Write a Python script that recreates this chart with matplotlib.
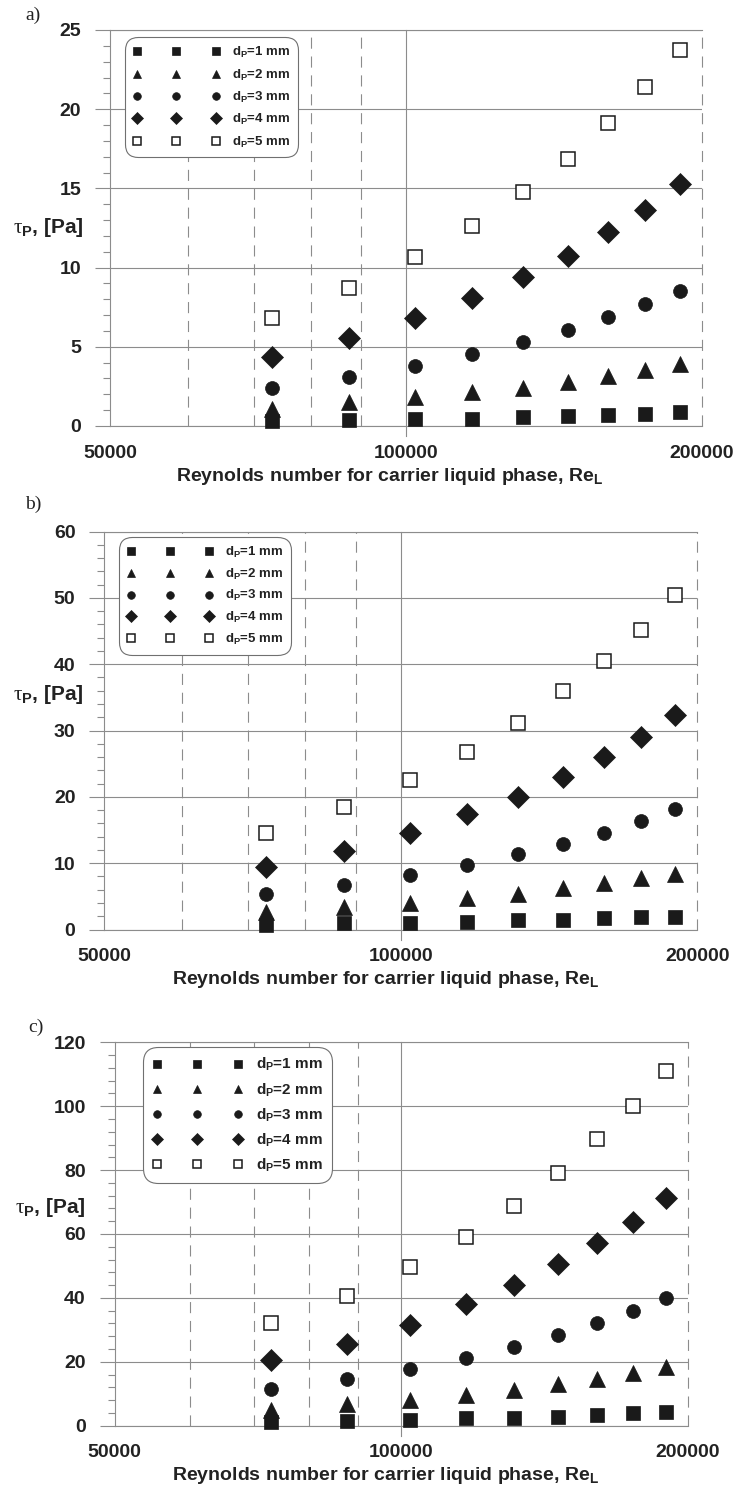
import matplotlib
matplotlib.use("Agg")
import matplotlib.pyplot as plt
from matplotlib.ticker import FixedLocator, FixedFormatter, MultipleLocator, NullLocator
from matplotlib.font_manager import FontProperties

plt.rcParams['mathtext.fontset'] = 'custom'
plt.rcParams['mathtext.rm'] = 'Liberation Serif'
plt.rcParams['mathtext.bf'] = 'Liberation Sans:bold'
plt.rcParams['mathtext.it'] = 'Liberation Sans:italic'
plt.rcParams['font.family'] = ['Liberation Sans', 'DejaVu Sans']

# ---------------- data ----------------
Re = [73000, 87600, 102200, 116800, 131400, 146000, 160600, 175200, 189800]

labels = ["d$_\\mathbf{P}$=1 mm", "d$_\\mathbf{P}$=2 mm", "d$_\\mathbf{P}$=3 mm",
          "d$_\\mathbf{P}$=4 mm", "d$_\\mathbf{P}$=5 mm"]

tau_a_d1 = [0.30, 0.38, 0.44, 0.46, 0.55, 0.65, 0.70, 0.78, 0.86]
tau_a_d2 = [1.10, 1.54, 1.85, 2.12, 2.42, 2.80, 3.18, 3.54, 3.91]
tau_a_d3 = [2.42, 3.11, 3.81, 4.55, 5.28, 6.06, 6.86, 7.68, 8.54]
tau_a_d4 = [4.38, 5.53, 6.80, 8.10, 9.39, 10.73, 12.27, 13.64, 15.28]
tau_a_d5 = [6.80, 8.69, 10.65, 12.63, 14.75, 16.86, 19.11, 21.38, 23.74]

tau_b_d1 = [0.68, 0.93, 0.93, 1.18, 1.43, 1.43, 1.68, 1.93, 1.93]
tau_b_d2 = [2.69, 3.34, 3.94, 4.80, 5.30, 6.20, 6.96, 7.82, 8.32]
tau_b_d3 = [5.30, 6.66, 8.17, 9.72, 11.33, 12.94, 14.60, 16.40, 18.17]
tau_b_d4 = [9.37, 11.83, 14.60, 17.37, 20.00, 22.95, 26.05, 29.07, 32.30]
tau_b_d5 = [14.6, 18.4, 22.5, 26.8, 31.2, 35.9, 40.5, 45.2, 50.4]

tau_c_d1 = [1.25, 1.57, 1.78, 2.30, 2.50, 2.80, 3.35, 4.07, 4.18]
tau_c_d2 = [4.9, 6.7, 8.1, 9.6, 11.2, 13.0, 14.6, 16.4, 18.3]
tau_c_d3 = [11.4, 14.5, 17.7, 21.1, 24.5, 28.4, 32.0, 36.0, 39.9]
tau_c_d4 = [20.56, 25.57, 31.5, 38.0, 44.04, 50.6, 57.1, 63.9, 71.2]
tau_c_d5 = [32.0, 40.7, 49.8, 59.2, 68.9, 79.2, 89.6, 100.2, 111.0]

xticks = [50000, 100000, 200000]
xticklabels = ["50000", "100000", "200000"]
dashed_x = [60000, 70000, 80000, 90000, 200000]
solid_x = [100000]

# ---------------- layout ----------------
W, H = 739, 1486
fig = plt.figure(figsize=(W / 100, H / 100), dpi=100)

def rect(l, t, r, b):
    return [l / W, 1 - b / H, (r - l) / W, (b - t) / H]

GRID = '#8c8c8c'
INK = '#1a1a1a'

styles = [
    dict(marker='s', ms=9.5, mfc=INK, mec=INK, mew=0.5),
    dict(marker='^', ms=11, mfc=INK, mec=INK, mew=0.5),
    dict(marker='o', ms=10, mfc=INK, mec=INK, mew=0.5),
    dict(marker='D', ms=11.5, mfc=INK, mec=INK, mew=0.5),
    dict(marker='s', ms=10.5, mfc='white', mec=INK, mew=1.1),
]

panels = [
    dict(box=(110, 30, 702, 426), ymax=25, major=5, minor=1,
         data=[tau_a_d1, tau_a_d2, tau_a_d3, tau_a_d4, tau_a_d5],
         tag='a)', tag_xy=(25, 15), ylab_xy=(13, 233), xlab_xy=(390, 480.5),
         leg_anchor=(0.0253, 0.982), leg_fs=9.5, leg_hl=6.6, leg_ls=0.55),
    dict(box=(104.3, 531.5, 697.4, 929.5), ymax=60, major=10, minor=2,
         data=[tau_b_d1, tau_b_d2, tau_b_d3, tau_b_d4, tau_b_d5],
         tag='b)', tag_xy=(25, 504), ylab_xy=(13, 700), xlab_xy=(386, 984),
         leg_anchor=(0.0248, 0.986), leg_fs=9.5, leg_hl=6.5, leg_ls=0.5),
    dict(box=(114.7, 1042.3, 688, 1425.7), ymax=120, major=20, minor=4,
         data=[tau_c_d1, tau_c_d2, tau_c_d3, tau_c_d4, tau_c_d5],
         tag='c)', tag_xy=(28, 1027), ylab_xy=(15, 1213), xlab_xy=(386, 1480),
         leg_anchor=(0.0494, 0.988), leg_fs=11, leg_hl=5.9, leg_ls=0.5),
]

for p in panels:
    l, t, r, b = p['box']
    ax = fig.add_axes(rect(l, t, r, b))
    ax.set_xscale('log')
    ax.set_xlim(50000, 200000)
    ax.set_ylim(0, p['ymax'])

    # gridlines
    for xv in dashed_x:
        ax.axvline(xv, color=GRID, lw=0.8, ls=(0, (10, 7)), zorder=1, clip_on=False)
    for xv in solid_x:
        ax.axvline(xv, ymin=-10 / (b - t), ymax=1, color=GRID, lw=0.8, zorder=1, clip_on=False)
    ax.yaxis.grid(True, which='major', color=GRID, lw=0.8, zorder=0)
    ax.set_axisbelow(True)

    ax.spines['right'].set_visible(False)
    for name in ['left', 'top', 'bottom']:
        ax.spines[name].set_color(GRID)
        ax.spines[name].set_linewidth(0.8)

    # ticks
    ax.xaxis.set_major_locator(FixedLocator(xticks))
    ax.xaxis.set_major_formatter(FixedFormatter(xticklabels))
    ax.xaxis.set_minor_locator(NullLocator())
    ax.tick_params(axis='x', which='major', length=0, pad=13.5, labelsize=14)
    ax.yaxis.set_major_locator(MultipleLocator(p['major']))
    ax.yaxis.set_minor_locator(MultipleLocator(p['minor']))
    ax.tick_params(axis='y', which='major', direction='out', length=10.8, width=0.8,
                   color=GRID, pad=10, labelsize=14)
    ax.tick_params(axis='y', which='minor', direction='out', length=5, width=0.8, color=GRID)
    for lab in ax.get_xticklabels() + ax.get_yticklabels():
        lab.set_fontweight('bold')
        lab.set_color('#222222')

    # data
    for vals, st, lab in zip(p['data'], styles, labels):
        ax.plot(Re, vals, ls='none', label=lab, clip_on=False, zorder=5, **st)

    leg = ax.legend(loc='upper left', bbox_to_anchor=p['leg_anchor'], numpoints=3,
                    markerscale=0.55, handlelength=p['leg_hl'], handletextpad=0.9,
                    borderpad=0.6, labelspacing=p['leg_ls'], borderaxespad=0,
                    prop=FontProperties(family='Liberation Sans', weight='bold', size=p['leg_fs']),
                    frameon=True, fancybox=True)
    fr = leg.get_frame()
    fr.set_boxstyle('round', pad=0, rounding_size=1.0)
    fr.set_edgecolor('#707070')
    fr.set_linewidth(0.8)
    fr.set_facecolor('white')
    fr.set_alpha(1)
    leg.set_zorder(10)
    for txt in leg.get_texts():
        txt.set_color('#222222')

    # texts
    tx, ty = p['tag_xy']
    fig.text(tx / W, 1 - ty / H, p['tag'], family='Liberation Serif', fontsize=14,
             ha='left', va='center', color='#222222')
    yx, yy = p['ylab_xy']
    fig.text(yx / W, 1 - yy / H, "$\\mathrm{\\tau}_\\mathbf{P}$, [Pa]", fontsize=15,
             fontweight='bold', ha='left', va='baseline', color='#222222')
    xx, xy = p['xlab_xy']
    fig.text(xx / W, 1 - xy / H, "Reynolds number for carrier liquid phase, Re$_\\mathbf{L}$",
             fontsize=14, fontweight='bold', ha='center', va='baseline', color='#222222')

fig.savefig('out.png', dpi=100)
